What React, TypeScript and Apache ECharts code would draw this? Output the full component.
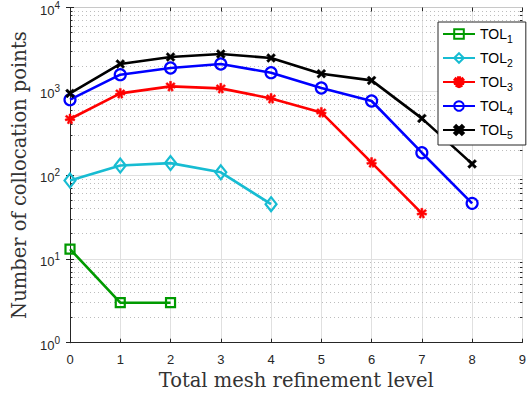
import React, { useEffect, useRef } from 'react';
import * as echarts from 'echarts';

const levels = [0, 1, 2, 3, 4, 5, 6, 7, 8];
const tol1 = [13.1, 3.0, 3.0];
const tol2 = [86, 130, 139, 108, 45];
const tol3 = [467, 944, 1145, 1084, 822, 560, 141, 35];
const tol4 = [794, 1578, 1897, 2118, 1667, 1094, 766, 185, 46];
const tol5 = [944, 2118, 2566, 2786, 2497, 1622, 1349, 475, 136];
const seriesNames = ['TOL1', 'TOL2', 'TOL3', 'TOL4', 'TOL5'];
const decades = [1, 10, 100, 1000];
const minorMultipliers = [2, 3, 4, 5, 6, 7, 8, 9];
const xMin = 0;
const xMax = 9;

const minorVals = decades.flatMap((d) => minorMultipliers.map((m) => d * m));

const pair = (ys: number[]) => ys.map((y, i) => [levels[i], y]);

const xShape = 'path://M0,2 L2,0 L5,3 L8,0 L10,2 L7,5 L10,8 L8,10 L5,7 L2,10 L0,8 L3,5 Z';
const starShape =
  'path://M4,0 L6,0 L6,3 L8.5,1 L9.8,2.6 L7.2,4.2 L10,5 L9.4,6.8 L6.6,6 L7.8,9 L6,9.8 L5,7 L4,9.8 L2.2,9 L3.4,6 L0.6,6.8 L0,5 L2.8,4.2 L0.2,2.6 L1.5,1 L4,3 Z';

export default function App() {
  const ref = useRef<HTMLDivElement>(null);
  useEffect(() => {
    document.body.style.margin = '0';
    const chart = echarts.init(ref.current!, null, { renderer: 'svg' });
    const dark = '#262626';
    const mk = (
      name: string,
      data: number[],
      color: string,
      symbol: string,
      size: number | number[],
      filled: boolean
    ) => ({
      name,
      type: 'line',
      data: pair(data),
      symbol,
      symbolSize: size,
      showSymbol: true,
      z: 3,
      lineStyle: { color, width: 2.6, type: 'solid' },
      itemStyle: filled
        ? { color, borderColor: color, borderWidth: 0.5 }
        : { color: 'rgba(255,255,255,0)', borderColor: color, borderWidth: 2.2 },
    });
    const option: any = {
      animation: false,
      grid: { left: 70, top: 7.5, width: 459.4, height: 335.2, containLabel: false },
      legend: {
        orient: 'vertical',
        left: 438,
        top: 22,
        z: 20,
        padding: [5, 13, 5, 4],
        itemWidth: 32,
        itemHeight: 12,
        itemGap: 7,
        backgroundColor: '#fff',
        borderColor: dark,
        borderWidth: 1,
        data: seriesNames,
        formatter: (n: string) => `{t|TOL}{s|${n.slice(3)}}`,
        textStyle: {
          fontFamily: 'Liberation Sans',
          fontSize: 14,
          color: '#000',
          rich: {
            t: { fontFamily: 'Liberation Sans', fontSize: 14, color: '#000', lineHeight: 20 },
            s: {
              fontFamily: 'Liberation Sans',
              fontSize: 10.5,
              color: '#000',
              lineHeight: 6,
              verticalAlign: 'bottom',
            },
          },
        },
      },
      xAxis: [
        {
          type: 'value',
          min: xMin,
          max: xMax,
          interval: 1,
          position: 'bottom',
          name: 'Total mesh refinement level',
          nameLocation: 'middle',
          nameGap: 27,
          nameTextStyle: { fontFamily: 'DejaVu Serif', fontSize: 19.5, color: '#333' },
          axisLine: { show: true, lineStyle: { color: dark, width: 1 } },
          axisTick: { show: true, inside: true, length: 4, lineStyle: { color: dark } },
          axisLabel: { fontFamily: 'Liberation Sans', fontSize: 13, color: dark, margin: 10 },
          splitLine: { show: true, lineStyle: { color: '#e0e0e0', width: 1 } },
        },
        {
          type: 'value',
          min: xMin,
          max: xMax,
          interval: 1,
          position: 'top',
          axisLine: { show: true, lineStyle: { color: '#c8c8c8', width: 1 } },
          axisTick: { show: true, inside: true, length: 4, lineStyle: { color: dark } },
          axisLabel: { show: false },
          splitLine: { show: false },
        },
      ],
      yAxis: [
        {
          type: 'log',
          logBase: 10,
          min: 1,
          max: 10000,
          position: 'left',
          name: 'Number of collocation points',
          nameLocation: 'middle',
          nameGap: 40,
          nameRotate: 90,
          nameTextStyle: { fontFamily: 'DejaVu Serif', fontSize: 19.5, color: '#333' },
          axisLine: { show: true, lineStyle: { color: dark, width: 1 } },
          axisTick: { show: true, inside: true, length: 4, lineStyle: { color: dark } },
          axisLabel: {
            margin: 10,
            padding: [5, 0, 0, 0],
            formatter: (v: number) => `{b|10}{p|${Math.round(Math.log10(v))}}`,
            rich: {
              b: { fontFamily: 'Liberation Sans', fontSize: 13, color: dark, lineHeight: 20 },
              p: {
                fontFamily: 'Liberation Sans',
                fontSize: 10,
                color: dark,
                lineHeight: 6,
                verticalAlign: 'top',
              },
            },
          },
          splitLine: { show: true, lineStyle: { color: '#e0e0e0', width: 1 } },
        },
        {
          type: 'log',
          logBase: 10,
          min: 1,
          max: 10000,
          position: 'right',
          axisLine: { show: true, lineStyle: { color: dark, width: 1 } },
          axisTick: { show: true, inside: true, length: 4, lineStyle: { color: dark } },
          axisLabel: { show: false },
          splitLine: { show: false },
        },
      ],
      series: [
        {
          name: '_minor',
          type: 'line',
          data: [],
          z: 1,
          silent: true,
          markLine: {
            z: 1,
            silent: true,
            symbol: ['none', 'none'],
            label: { show: false },
            animation: false,
            lineStyle: { type: [1, 3], color: '#bdbdbd', width: 1 },
            data: minorVals.map((v) => ({ yAxis: v })),
          },
        },
        {
          name: '_minorTicks',
          type: 'line',
          data: [],
          z: 2,
          silent: true,
          markLine: {
            z: 2,
            silent: true,
            symbol: ['none', 'none'],
            label: { show: false },
            animation: false,
            lineStyle: { type: 'solid', color: dark, width: 1 },
            data: [
              ...minorVals.map((v) => [{ coord: [xMin, v] }, { coord: [xMin + 0.05, v] }]),
              ...minorVals.map((v) => [{ coord: [xMax - 0.05, v] }, { coord: [xMax, v] }]),
            ],
          },
        },
        mk('TOL1', tol1, '#009a00', 'rect', 9, false),
        mk('TOL2', tol2, '#17bcd2', 'diamond', [11, 14], false),
        mk('TOL3', tol3, '#ff0000', starShape, 10, true),
        mk('TOL4', tol4, '#0000ff', 'circle', 11, false),
        mk('TOL5', tol5, '#000000', xShape, 9, true),
      ],
    };
    chart.setOption(option);
    return () => chart.dispose();
  }, []);
  return <div ref={ref} style={{ width: 529, height: 398 }} />;
}
